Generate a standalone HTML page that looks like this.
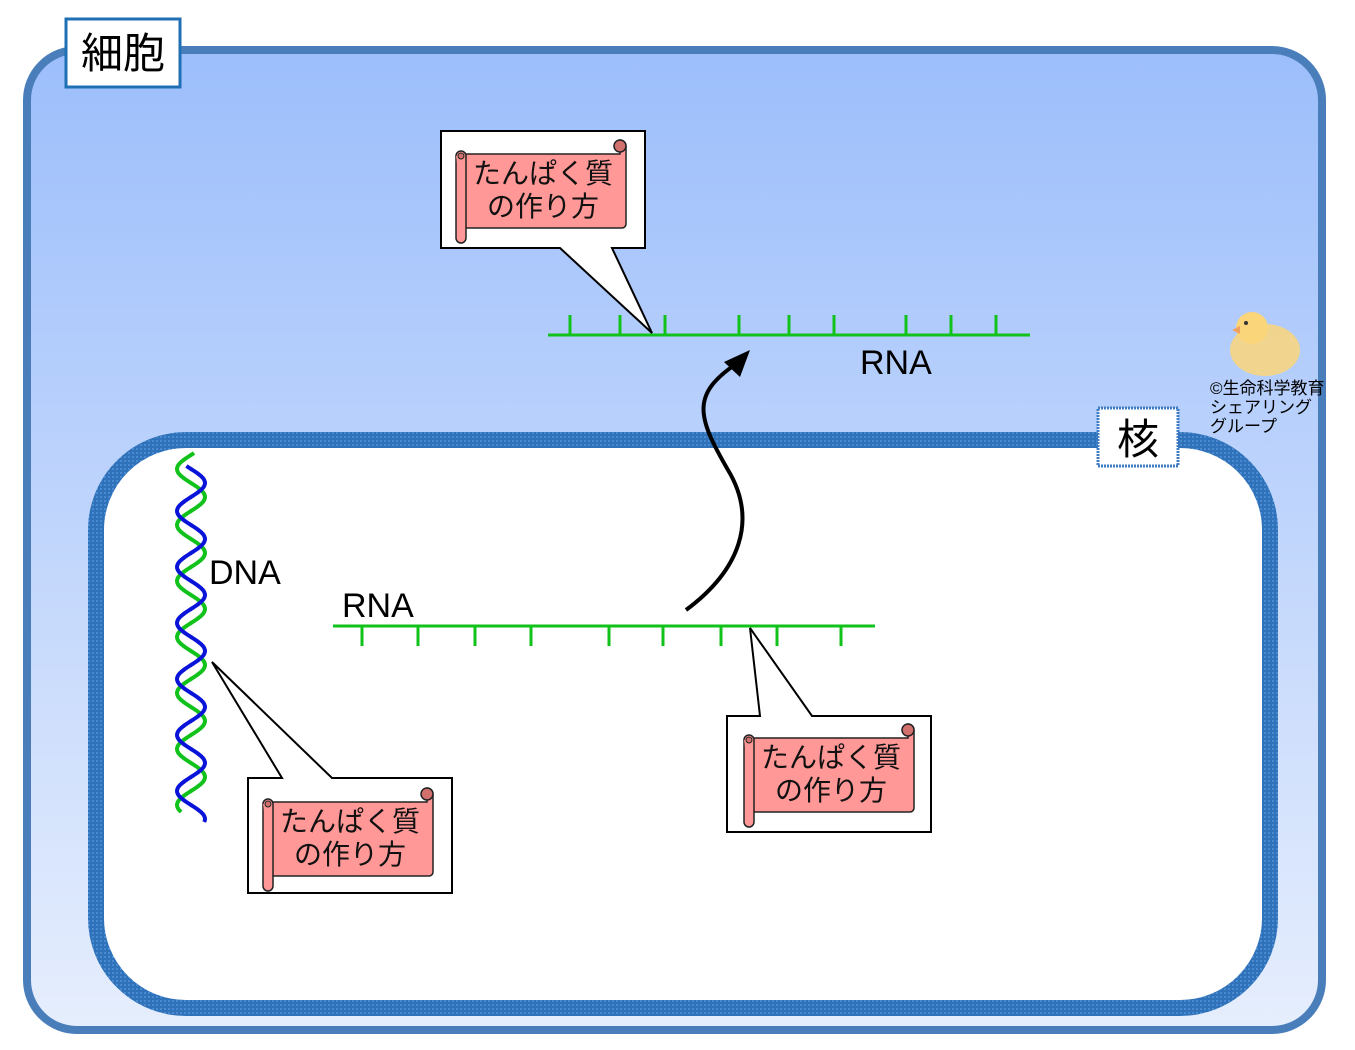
<!DOCTYPE html>
<html><head><meta charset="utf-8"><style>
html,body{margin:0;padding:0;background:#fff}
svg{display:block}
text{font-family:"Liberation Sans","Noto Sans CJK JP",sans-serif}
</style></head><body>
<svg id="s" width="1355" height="1050" viewBox="0 0 1355 1050" xmlns="http://www.w3.org/2000/svg">
<defs>
<linearGradient id="g" x1="0" y1="0" x2="0" y2="1">
<stop offset="0" stop-color="#9cbefb"/><stop offset="1" stop-color="#e6eefd"/>
</linearGradient>
<pattern id="dot" width="4" height="4" patternUnits="userSpaceOnUse">
<rect width="4" height="4" fill="#2f72b9"/><rect width="2" height="2" fill="#4a8ad0"/>
</pattern>
<g id="scroll">
<path d="M8,12 H170 V-2 a6,6 0 0 1 6,6 V82 a4,4 0 0 1 -4,4 H16 V96 a5,5 0 0 1 -10,0 V14 a6,6 0 0 1 2,-2 Z" fill="#ff9896" stroke="#222" stroke-width="1.5"/>
<circle cx="170" cy="4" r="6" fill="#d2706e" stroke="#222" stroke-width="1.5"/>
<path d="M6,14 a5,5 0 0 1 10,0 V86" fill="#ff9896" stroke="#222" stroke-width="1.5"/>
<circle cx="11" cy="14" r="3" fill="#d2706e" stroke="#222" stroke-width="1"/>
<text x="93" y="41" font-size="28" text-anchor="middle" fill="#111">たんぱく質</text>
<text x="93" y="74" font-size="28" text-anchor="middle" fill="#111">の作り方</text>
</g>
</defs>
<rect x="27" y="50" width="1295" height="980" rx="50" fill="url(#g)" stroke="#4a7ebb" stroke-width="8"/>
<rect x="96" y="440" width="1174" height="568" rx="90" fill="#fff" stroke="url(#dot)" stroke-width="16"/>
<rect x="66" y="19" width="114" height="68" fill="#fff" stroke="#1f6fb5" stroke-width="3"/>
<text x="123" y="68" font-size="42" text-anchor="middle">細胞</text>
<rect x="1098" y="408" width="80" height="58" fill="#fff" stroke="#3f7cc4" stroke-width="3" stroke-dasharray="2,1"/>
<text x="1138" y="454" font-size="42" text-anchor="middle">核</text>
<!-- chick -->
<ellipse cx="1265" cy="350" rx="35" ry="26" fill="#fbd57a" opacity="0.85"/>
<circle cx="1252" cy="328" r="16" fill="#fbd57a"/>
<circle cx="1246" cy="323" r="2" fill="#333"/>
<path d="M1232,330 l8,-4 v8z" fill="#f0a060"/>
<text x="1210" y="394" font-size="17">©生命科学教育</text>
<text x="1210" y="413" font-size="17">シェアリング</text>
<text x="1210" y="432" font-size="17">グループ</text>
<g stroke="#11c21a" stroke-width="3">
<line x1="548" y1="335" x2="1030" y2="335"/>
<path d="M570,335V315M620,335V315M665,335V315M739,335V315M789,335V315M834,335V315M906,335V315M951,335V315M996,335V315"/>
<line x1="333" y1="626" x2="875" y2="626"/>
<path d="M362,626V646M418,626V646M475,626V646M531,626V646M609,626V646M663,626V646M721,626V646M777,626V646M841,626V646"/>
</g>
<text x="860" y="374" font-size="34">RNA</text>
<text x="342" y="617" font-size="34">RNA</text>
<text x="209" y="584" font-size="34">DNA</text>
<path id="hg" fill="none" stroke="#11c21a" stroke-width="4"/>
<path id="hb" fill="none" stroke="#0a14d8" stroke-width="4"/>
<path d="M686,610 C740,570 758,520 728,470 C698,418 690,395 736,364" fill="none" stroke="#000" stroke-width="4"/>
<path d="M750,350 L724,362 L740,377 Z" fill="#000"/>
<path d="M441,131 H645 V248 H612 L652,333 L560,248 H441 Z" fill="#fff" stroke="#000" stroke-width="2"/>
<use href="#scroll" x="450" y="142"/>
<path d="M727,716 H760 L750,628 L812,716 H931 V832 H727 Z" fill="#fff" stroke="#000" stroke-width="2"/>
<use href="#scroll" x="738" y="726"/>
<path d="M248,778 H282 L212,662 L332,778 H452 V893 H248 Z" fill="#fff" stroke="#000" stroke-width="2"/>
<use href="#scroll" x="257" y="790"/>
</svg>
<script>
function helix(ph,y0,y1){var d="";for(var y=y0;y<=y1;y+=1){var x=191+14*Math.sin(2*Math.PI*(y-455)/56+ph);d+=(d?"L":"M")+x.toFixed(1)+","+y;}return d;}
document.getElementById("hg").setAttribute("d",helix(Math.PI*1.0,453,812));
document.getElementById("hb").setAttribute("d",helix(Math.PI*1.5,466,822));
</script>
</body></html>
